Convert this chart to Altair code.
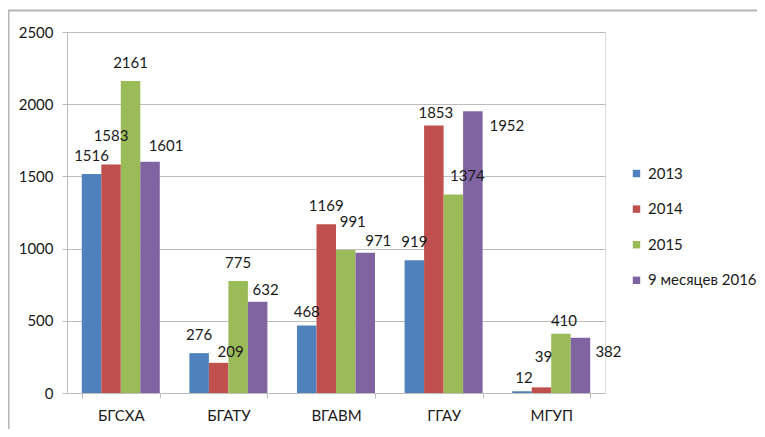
import altair as alt
import pandas as pd

categories = ["БГСХА", "БГАТУ", "ВГАВМ", "ГГАУ", "МГУП"]
series = ["2013", "2014", "2015", "9 месяцев 2016"]
v2013 = [1516, 276, 468, 919, 12]
v2014 = [1583, 209, 1169, 1853, 39]
v2015 = [2161, 775, 991, 1374, 410]
v2016 = [1601, 632, 971, 1952, 382]
colors = ["#4F81BD", "#C0504D", "#9BBB59", "#8064A2"]
y_ticks = [0, 500, 1000, 1500, 2000, 2500]

# pixel nudges of individual data labels (as placed in the reference)
label_nudge = {
    ("БГСХА", "2014"): (0, -28),
    ("БГСХА", "9 месяцев 2016"): (16, -16),
    ("БГАТУ", "2014"): (12, -11),
    ("БГАТУ", "9 месяцев 2016"): (8, -12),
    ("ВГАВМ", "2013"): (0, -13),
    ("ВГАВМ", "2015"): (7, -28),
    ("ВГАВМ", "9 месяцев 2016"): (13, -12),
    ("ГГАУ", "2014"): (2, -12),
    ("ГГАУ", "2015"): (14, -19),
    ("ГГАУ", "9 месяцев 2016"): (34, 15),
    ("МГУП", "2013"): (2, -13),
    ("МГУП", "2014"): (2, -30),
    ("МГУП", "2015"): (3, -13),
    ("МГУП", "9 месяцев 2016"): (28, 14),
}
default_nudge = (0, -18)

rows = []
for s, vals in zip(series, [v2013, v2014, v2015, v2016]):
    for c, v in zip(categories, vals):
        dx, dy = label_nudge.get((c, s), default_nudge)
        rows.append({"cat": c, "series": s, "value": v, "grp": f"{dx}_{dy}"})
df = pd.DataFrame(rows)

FONT = "Lato"
GRID = "#BDBDBD"
TXT = "#1a1a1a"

x = alt.X(
    "cat:N",
    sort=categories,
    scale=alt.Scale(paddingInner=0.275, paddingOuter=0.1375),
    axis=alt.Axis(
        title=None, labelAngle=0, tickBand="extent", grid=False,
        domainColor=GRID, tickColor=GRID, tickSize=5,
        labelFont=FONT, labelFontSize=15, labelColor=TXT, labelPadding=10,
    ),
)
xo = alt.XOffset("series:N", sort=series, scale=alt.Scale(paddingInner=0, paddingOuter=0))
y = alt.Y(
    "value:Q",
    scale=alt.Scale(domain=[0, 2500], nice=False),
    axis=alt.Axis(
        values=y_ticks, format="d", title=None, grid=True, gridColor=GRID,
        domainColor=GRID, tickColor=GRID, tickSize=5,
        labelFont=FONT, labelFontSize=15, labelColor=TXT, labelPadding=9,
    ),
)
color = alt.Color(
    "series:N",
    sort=series,
    scale=alt.Scale(domain=series, range=colors),
    legend=alt.Legend(
        title=None, orient="none", legendX=562, legendY=134,
        symbolType="square", symbolSize=55, symbolStrokeWidth=0,
        labelFont=FONT, labelFontSize=15, labelColor=TXT,
        rowPadding=19.6, labelOffset=4, labelLimit=200,
    ),
)

base = alt.Chart(df)
bars = base.mark_bar().encode(x=x, xOffset=xo, y=y, color=color)

layers = [bars]
for g in sorted(df["grp"].unique()):
    dx, dy = (int(t) for t in g.split("_"))
    layers.append(
        base.transform_filter(alt.datum.grp == g)
        .mark_text(baseline="middle", dx=dx, dy=dy, font=FONT, fontSize=15, color=TXT)
        .encode(x=x, xOffset=xo, y=y, text="value:Q")
    )

one = pd.DataFrame({"a": [0]})
top_line = alt.Chart(one).mark_rule(color="#B5B5B5", strokeWidth=2).encode(
    x=alt.value(-59), x2=alt.value(690), y=alt.value(-21.5)
)
left_line = alt.Chart(one).mark_rule(color="#B5B5B5", strokeWidth=2).encode(
    x=alt.value(-58.5), y=alt.value(-21.5), y2=alt.value(397)
)
layers += [top_line, left_line]

chart = alt.layer(*layers).properties(
    width=538,
    height=361,
    padding={"left": 59, "top": 24, "right": 152, "bottom": 36},
    autosize=alt.AutoSizeParams(type="none"),
).configure_view(stroke=None).configure(background="white")

chart.save("out.html", embed_options={"renderer": "svg", "actions": False})
